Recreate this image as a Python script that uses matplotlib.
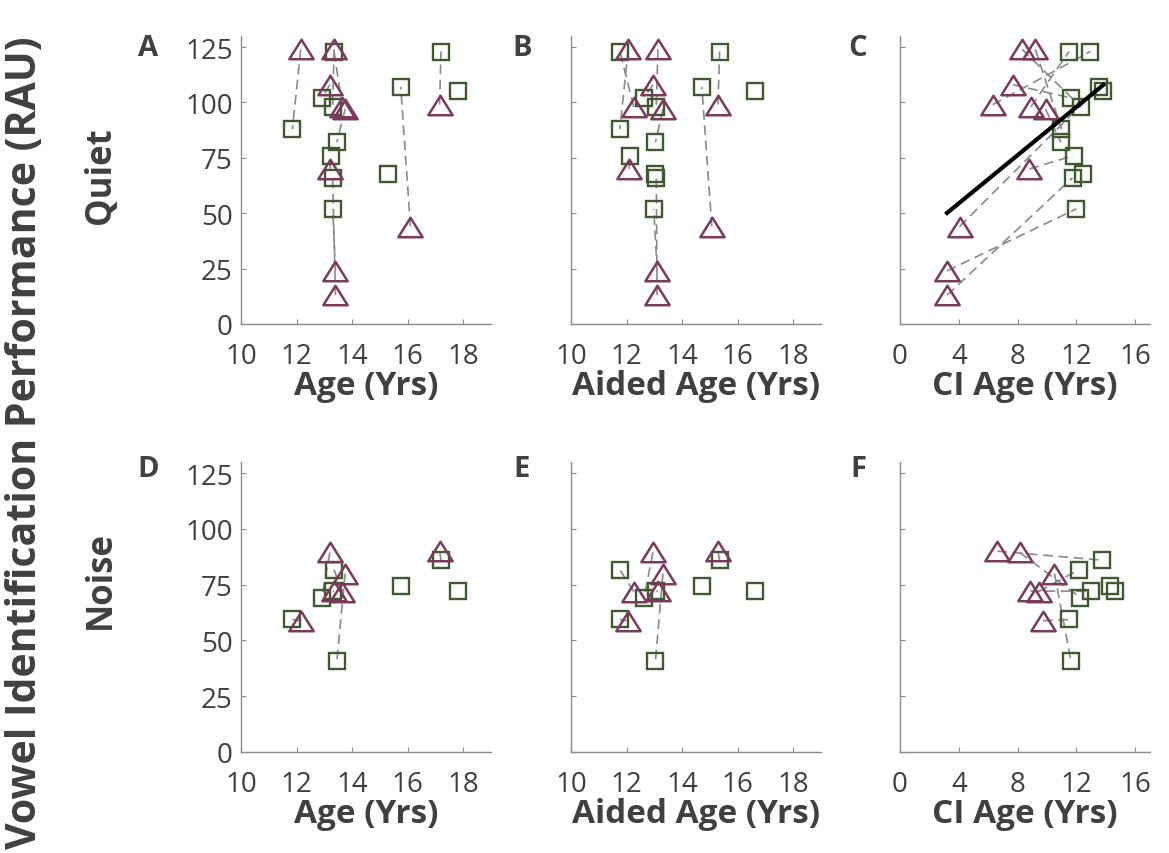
import numpy as np
import matplotlib
matplotlib.use("Agg")
import matplotlib.pyplot as plt
from matplotlib.path import Path

nan = np.nan

# triangles: 10 children, squares: 12 children; triangle i is linked to square i
tri_age = [12.15, 13.35, 13.2, 13.65, 13.75, 17.15, 13.2, 16.1, 13.4, 13.4]
tri_aided = [12.06, 13.13, 12.95, 12.26, 13.31, 15.29, 12.09, 15.07, 13.1, 13.1]
tri_ci_quiet = [9.2, 8.3, 7.7, 8.9, 9.9, 6.3, 8.8, 4.05, 3.2, 3.2]
tri_ci_noise = [9.73, 8.86, 8.13, 9.43, 10.5, 6.63, nan, nan, nan, nan]
tri_quiet = [124, 124, 108, 98, 97, 99, 70, 44, 24, 13]
tri_noise = [58.8, 72.2, 89.5, 71.9, 80, 90, nan, nan, nan, nan]

sq_age = [11.85, 13.3, 12.9, 13.35, 13.45, 17.2, 13.25, 15.75, 13.3, 13.3, 15.3, 17.8]
sq_aided = [11.76, 13.07, 12.63, 11.76, 13.04, 15.35, 12.14, 14.71, 12.98, 13.07, 13.04, 16.63]
sq_ci_quiet = [10.98, 12.3, 11.66, 11.5, 10.93, 12.95, 11.8, 13.55, 12.0, 11.73, 12.46, 13.83]
sq_ci_noise = [11.52, 13.02, 12.27, 12.15, 11.63, 13.75, nan, 14.27, nan, nan, nan, 14.59]
sq_quiet = [88, 98, 102, 123, 82, 123, 76, 107, 52, 66, 67.5, 105]
sq_noise = [59.4, 72, 69.2, 81.7, 40.7, 86, nan, 74.4, nan, nan, nan, 72.2]

age_ticks = [10, 12, 14, 16, 18]
ci_ticks = [0, 4, 8, 12, 16]
y_ticks = [0, 25, 50, 75, 100, 125]
panel_letters = ["A", "B", "C", "D", "E", "F"]
x_labels = ["Age (Yrs)", "Aided Age (Yrs)", "CI Age (Yrs)"]

tri_col = "#7b3a5c"
sq_col = "#41592f"
txt_col = "#404040"

plt.rcParams["font.family"] = ["Open Sans", "DejaVu Sans"]
plt.rcParams["lines.scale_dashes"] = False

# flat MATLAB-ish triangle
tri_marker = Path([(-1, -0.8), (1, -0.8), (0, 0.8), (-1, -0.8)],
                  [Path.MOVETO, Path.LINETO, Path.LINETO, Path.CLOSEPOLY])

W, H = 1169, 854
fig = plt.figure(figsize=(W / 100, H / 100), dpi=100)

col_left = [241, 571, 900]
row_top = [37, 463]
row_bot = [325, 753]

panels = [
    (tri_age, sq_age, tri_quiet, sq_quiet),
    (tri_aided, sq_aided, tri_quiet, sq_quiet),
    (tri_ci_quiet, sq_ci_quiet, tri_quiet, sq_quiet),
    (tri_age, sq_age, tri_noise, sq_noise),
    (tri_aided, sq_aided, tri_noise, sq_noise),
    (tri_ci_noise, sq_ci_noise, tri_noise, sq_noise),
]

for k, (tx, sx, ty, sy) in enumerate(panels):
    r, c = divmod(k, 3)
    ax = fig.add_axes([col_left[c] / W, 1 - row_bot[r] / H, 250 / W,
                       (row_bot[r] - row_top[r]) / H])

    # dashed links between paired points
    for i in range(len(tx)):
        if np.isnan(ty[i]) or np.isnan(sy[i]):
            continue
        ax.plot([tx[i], sx[i]], [ty[i], sy[i]], color="#8a8a8a", lw=1.2,
                dashes=(7, 4), zorder=2)

    ax.plot(sx, sy, ls="none", marker="s", ms=11, mfc="none", mec=sq_col,
            mew=1.7, zorder=3)
    ax.plot(tx, ty, ls="none", marker=tri_marker, ms=17.5, mfc="none",
            mec=tri_col, mew=1.8, zorder=3)

    if k == 2:
        allx = np.array(tx + sx)
        ally = np.array(ty + sy)
        p = np.polyfit(allx, ally, 1)
        xf = np.array([allx.min(), allx.max()])
        ax.plot(xf, np.polyval(p, xf), color="black", lw=3, zorder=4)

    if c < 2:
        ax.set_xlim(10, 19)
        ax.set_xticks(age_ticks)
    else:
        ax.set_xlim(0, 17)
        ax.set_xticks(ci_ticks)
    ax.set_ylim(0, 130)
    ax.set_yticks(y_ticks)
    if c > 0:
        ax.set_yticklabels([])

    for s in ["top", "right"]:
        ax.spines[s].set_visible(False)
    for s in ["left", "bottom"]:
        ax.spines[s].set_color("#8c8c8c")
        ax.spines[s].set_linewidth(1.0)
    ax.tick_params(direction="in", length=3.5, width=0.8, colors="#8c8c8c",
                   labelcolor=txt_col, labelsize=20, pad=6)
    ax.tick_params(axis="x", pad=13)
    ax.set_xlabel(x_labels[c], fontsize=24, fontweight="bold",
                  color=txt_col, labelpad=-1)

    lx = [148, 522, 858][c]
    ly = [48, 470][r]
    fig.text(lx / W, 1 - ly / H, panel_letters[k], fontsize=21,
             fontweight="bold", color=txt_col, ha="center", va="center")

fig.text(101 / W, 1 - 176 / H, "Quiet", rotation=90, fontsize=25,
         fontweight="bold", color=txt_col, ha="center", va="center")
fig.text(101 / W, 1 - 580 / H, "Noise", rotation=90, fontsize=25,
         fontweight="bold", color=txt_col, ha="center", va="center")
fig.text(26 / W, 1 - 443 / H, "Vowel Identification Performance (RAU)",
         rotation=90, fontsize=29.5, fontweight="bold", color=txt_col,
         ha="center", va="center")

fig.savefig("out.png", dpi=100, facecolor="white")
